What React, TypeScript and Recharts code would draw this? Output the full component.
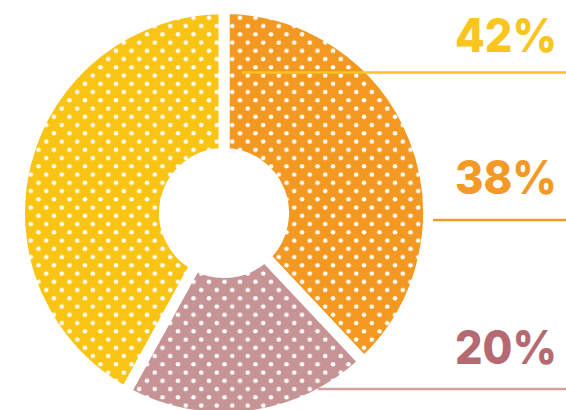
import React from 'react';
import { PieChart, Pie, Cell } from 'recharts';

const categories = ['Orange', 'Mauve', 'Yellow'];
const values = [38, 20, 42];
const labels = ['38%', '20%', '42%'];
const fills = ['#F39821', '#C79496', '#F9C414'];
const textColors = ['#F39A26', '#B46A70', '#F9C51E'];
const lineColors = ['#F39A26', '#D3A0A3', '#F9C51E'];

const data = categories.map((name, i) => ({ name, value: values[i] }));

// layout of the right-hand labels (per category index)
const labelLayout = [
  { textY: 194, lineY: 220, lineX1: 433 },
  { textY: 364, lineY: 389, lineX1: 318 },
  { textY: 52, lineY: 72.5, lineX1: 242 },
];
const TEXT_RIGHT = 557;
const LINE_RIGHT = 566;

const renderLabel = (props: any) => {
  const i = props.index;
  const l = labelLayout[i];
  return (
    <g key={`lbl-${i}`}>
      <line x1={l.lineX1} x2={LINE_RIGHT} y1={l.lineY} y2={l.lineY} stroke={lineColors[i]} strokeWidth={2.5} />
      <text
        x={TEXT_RIGHT}
        y={l.textY}
        textAnchor="end"
        fill={textColors[i]}
        fontFamily="Inter, Roboto, sans-serif"
        fontWeight={800}
        fontSize={47}
        textLength={102}
        lengthAdjust="spacingAndGlyphs"
      >
        {labels[i]}
      </text>
    </g>
  );
};

export default function App() {
  return (
    <div style={{ position: 'absolute', left: 0, top: 0, width: 566, height: 410, background: '#fff' }}>
      <PieChart width={566} height={410} margin={{ top: 0, right: 0, bottom: 0, left: 0 }}>
        <defs>
          {fills.map((c, i) => (
            <pattern
              key={i}
              id={`dots-${i}`}
              patternUnits="userSpaceOnUse"
              x={3.625}
              y={13.675}
              width={15.5}
              height={16.5}
            >
              <rect x={0} y={0} width={15.5} height={16.5} fill={c} />
              <circle cx={3.875} cy={4.125} r={2.3} fill="#fff" />
              <circle cx={11.625} cy={12.375} r={2.3} fill="#fff" />
            </pattern>
          ))}
        </defs>
        <Pie
          data={data}
          dataKey="value"
          nameKey="name"
          cx={224}
          cy={213}
          innerRadius={59.5}
          outerRadius={204.5}
          startAngle={90}
          endAngle={-270}
          paddingAngle={0}
          isAnimationActive={false}
          label={renderLabel}
          labelLine={false}
        >
          {data.map((d, i) => (
            <Cell key={d.name} fill={`url(#dots-${i})`} stroke="#fff" strokeWidth={11} />
          ))}
        </Pie>
      </PieChart>
    </div>
  );
}
